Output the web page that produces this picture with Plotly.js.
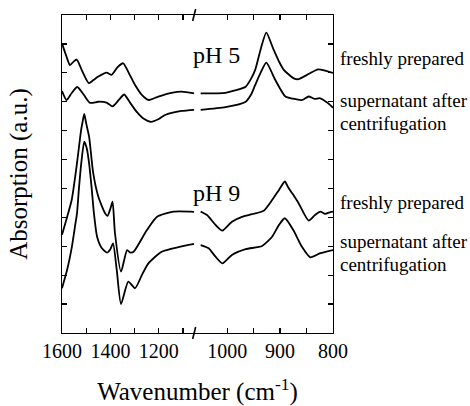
<!DOCTYPE html>
<html>
<head>
<meta charset="utf-8">
<script src="https://cdn.plot.ly/plotly-3.0.1.min.js"></script>
<style>html,body{margin:0;padding:0;background:#fff;}#chart{width:470px;height:406px;}</style>
</head>
<body>
<div id="chart"></div>
<script>
// ---- data (wavenumber in cm-1, absorption in a.u.) ----
// left segment (1600 - ~1053 cm-1)
const pH5FreshLeftWn = [1600,1583,1567,1553,1539,1515,1489,1470,1450,1416,1395,1370,1347,1320,1298,1270,1241,1202,1147,1106,1053];
const pH5FreshLeftAbs = [10.02,9.6,9.27,9.38,9.46,9.03,8.64,8.75,8.87,9.01,8.93,9.20,9.33,8.93,8.58,8.24,8.06,8.18,8.31,8.35,8.29];
const pH5SuperLeftWn = [1600,1581,1560,1537,1510,1484,1450,1416,1391,1365,1343,1318,1292,1260,1232,1200,1174,1106,1053];
const pH5SuperLeftAbs = [8.37,8.06,8.30,8.51,8.24,7.96,8.00,7.97,7.84,8.06,8.25,7.96,7.66,7.40,7.30,7.40,7.54,7.68,7.72];
const pH9FreshLeftWn = [1600,1580,1560,1540,1521,1515,1508,1500,1488,1471,1450,1422,1412,1400,1391,1381,1356,1331,1318,1304,1249,1207,1139,1070,1053];
const pH9FreshLeftAbs = [3.4,3.98,4.60,5.75,7.02,7.30,7.58,7.25,6.79,5.53,4.72,4.14,4.05,4.30,4.54,3.45,2.12,2.87,2.78,2.81,3.56,4.02,4.20,4.20,4.19];
const pH9SuperLeftWn = [1600,1579,1559,1546,1538,1530,1520,1508,1498,1488,1478,1468,1455,1435,1414,1400,1389,1374,1356,1326,1298,1270,1243,1188,1119,1053];
const pH9SuperLeftAbs = [1.55,2.18,2.99,3.70,4.14,5.0,5.9,6.62,6.4,5.87,5.06,4.14,3.33,2.93,2.78,2.90,3.10,2.20,1.00,1.78,1.55,2.00,2.41,2.81,2.97,3.08];
// right segment (~1050 - 800 cm-1)
const pH5FreshRightWn = [1050,1003,985,965,955,947,936,926,912,902,893,874,865,849,828,815,800];
const pH5FreshRightAbs = [8.29,8.31,8.39,8.52,8.79,9.10,9.86,10.39,9.79,9.39,9.10,8.81,8.78,8.93,9.12,9.08,9.0];
const pH5SuperRightWn = [1050,1003,965,955,947,936,926,909,890,871,858,846,835,824,810,800];
const pH5SuperRightAbs = [7.72,7.81,8.00,8.24,8.58,9.03,9.35,8.75,8.18,8.09,8.06,8.18,8.10,8.12,7.96,7.79];
const pH9FreshRightWn = [1050,1038,1022,1009,991,972,953,931,915,902,891,885,877,865,846,834,824,815,805,800];
const pH9FreshRightAbs = [4.20,4.08,3.74,3.54,3.85,4.02,4.11,4.23,4.60,4.95,5.24,5.05,4.83,4.49,3.89,4.08,4.20,4.12,4.18,4.20];
const pH9SuperRightWn = [1050,1035,1022,1009,991,965,934,915,902,891,875,859,843,824,800];
const pH9SuperRightAbs = [3.04,2.93,2.64,2.41,2.70,2.90,3.01,3.33,3.74,3.97,3.56,2.99,2.62,2.76,2.87];

const leftTickVals = [1600,1400,1200];
const leftMinorVals = [1500,1300,1100];
const rightTickVals = [1000,900,800];
const rightMinorVals = [950,850];
const yTickVals = [0,1,2,3,4,5,6,7,8,9,10,11];

const FONT = '"Liberation Serif", "Times New Roman", serif';
const lineStyle = {color:'#000', width:1.8, shape:'spline', smoothing:0.6};

function tr(x, y, xa, ya){
  return {x:x, y:y, xaxis:xa, yaxis:ya, type:'scatter', mode:'lines', line:lineStyle, hoverinfo:'skip', showlegend:false};
}
const data = [
  tr(pH5FreshLeftWn, pH5FreshLeftAbs, 'x', 'y'),
  tr(pH5SuperLeftWn, pH5SuperLeftAbs, 'x', 'y'),
  tr(pH9FreshLeftWn, pH9FreshLeftAbs, 'x', 'y'),
  tr(pH9SuperLeftWn, pH9SuperLeftAbs, 'x', 'y'),
  tr(pH5FreshRightWn, pH5FreshRightAbs, 'x2', 'y2'),
  tr(pH5SuperRightWn, pH5SuperRightAbs, 'x2', 'y2'),
  tr(pH9FreshRightWn, pH9FreshRightAbs, 'x2', 'y2'),
  tr(pH9SuperRightWn, pH9SuperRightAbs, 'x2', 'y2'),
  // empty carrier trace so the full-width title axis is drawn
  {x:[null], y:[null], xaxis:'x3', yaxis:'y', type:'scatter', mode:'lines', hoverinfo:'skip', showlegend:false}
];

const split = 0.4877;
const minorStyle = {ticks:'inside', ticklen:5, tickwidth:1.2, tickcolor:'#000', showgrid:false};
const axCommon = {showline:true, linecolor:'#000', linewidth:1.3, ticks:'inside', ticklen:5, tickwidth:1.2, tickcolor:'#000',
  showgrid:false, zeroline:false, mirror:'ticks', tickfont:{family:FONT, size:20, color:'#000'}};

const layout = {
  width:470, height:406,
  margin:{l:62, r:137, t:15, b:73},
  paper_bgcolor:'#fff', plot_bgcolor:'rgba(0,0,0,0)',
  font:{family:FONT, color:'#000'},
  xaxis: Object.assign({}, axCommon, {domain:[0, split], range:[1600, 1053.7], anchor:'y',
    tickmode:'array', tickvals:leftTickVals,
    minor:Object.assign({tickmode:'array', tickvals:leftMinorVals}, minorStyle)}),
  xaxis2: Object.assign({}, axCommon, {domain:[split, 1], range:[1062.3, 800], anchor:'y2',
    tickmode:'array', tickvals:rightTickVals,
    minor:Object.assign({tickmode:'array', tickvals:rightMinorVals}, minorStyle)}),
  xaxis3: {domain:[0,1], anchor:'y', showline:false, showticklabels:false, ticks:'', showgrid:false, zeroline:false,
    range:[0,1], title:{text:'Wavenumber (cm<sup>-1</sup>)', font:{family:FONT, size:25, color:'#000'}, standoff:49}},
  yaxis: Object.assign({}, axCommon, {range:[0,11], tickmode:'array', tickvals:yTickVals, showticklabels:false,
    mirror:false, side:'left', anchor:'x',
    title:{text:'Absorption (a.u.)', font:{family:FONT, size:25, color:'#000'}, standoff:26}}),
  yaxis2: Object.assign({}, axCommon, {range:[0,11], tickmode:'array', tickvals:yTickVals, showticklabels:false,
    mirror:false, side:'right', anchor:'x2'}),
  shapes: [
    {type:'line', xref:'paper', yref:'paper', x0:split-0.0055, x1:split+0.0055, y0:-0.019, y1:0.019, line:{color:'#000', width:1.6}},
    {type:'line', xref:'paper', yref:'paper', x0:split-0.0055, x1:split+0.0055, y0:1-0.019, y1:1+0.019, line:{color:'#000', width:1.6}}
  ],
  annotations: [
    {text:'pH 5', xref:'paper', yref:'paper', x:0.5706, y:0.874, xanchor:'center', yanchor:'middle', showarrow:false, font:{family:FONT, size:24, color:'#000'}},
    {text:'pH 9', xref:'paper', yref:'paper', x:0.5706, y:0.440, xanchor:'center', yanchor:'middle', showarrow:false, font:{family:FONT, size:24, color:'#000'}},
    {text:'freshly prepared', xref:'paper', yref:'paper', x:1.0185, y:0.862, xanchor:'left', yanchor:'middle', showarrow:false, font:{family:FONT, size:19, color:'#000'}},
    {text:'supernatant after', xref:'paper', yref:'paper', x:1.0185, y:0.730, xanchor:'left', yanchor:'middle', showarrow:false, font:{family:FONT, size:19, color:'#000'}},
    {text:'centrifugation', xref:'paper', yref:'paper', x:1.0185, y:0.660, xanchor:'left', yanchor:'middle', showarrow:false, font:{family:FONT, size:19, color:'#000'}},
    {text:'freshly prepared', xref:'paper', yref:'paper', x:1.0185, y:0.410, xanchor:'left', yanchor:'middle', showarrow:false, font:{family:FONT, size:19, color:'#000'}},
    {text:'supernatant after', xref:'paper', yref:'paper', x:1.0185, y:0.289, xanchor:'left', yanchor:'middle', showarrow:false, font:{family:FONT, size:19, color:'#000'}},
    {text:'centrifugation', xref:'paper', yref:'paper', x:1.0185, y:0.214, xanchor:'left', yanchor:'middle', showarrow:false, font:{family:FONT, size:19, color:'#000'}}
  ]
};

Plotly.newPlot('chart', data, layout, {displayModeBar:false, staticPlot:true});
</script>
</body>
</html>
